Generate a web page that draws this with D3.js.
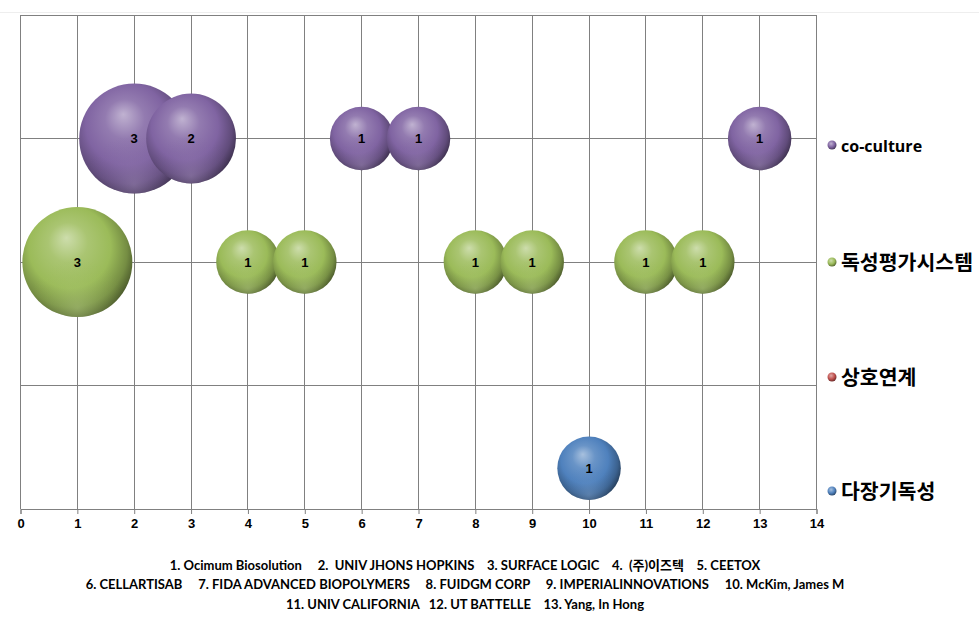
<!DOCTYPE html>
<html><head><meta charset="utf-8">
<script src="https://cdn.jsdelivr.net/npm/d3@7/dist/d3.min.js"></script>
<style>
html,body{margin:0;padding:0;background:#fff;}
svg{display:block;}
</style></head>
<body>
<script>
// ---- data ----
const seriesNames = ["co-culture", "독성평가시스템", "상호연계", "다장기독성"];
const seriesColors = ["#8064A2", "#9BBB59", "#C0504D", "#4F81BD"];
const cocultureX = [2, 3, 6, 7, 13];
const cocultureSize = [3, 2, 1, 1, 1];
const cocultureY = 3;
const toxX = [1, 4, 5, 8, 9, 11, 12];
const toxSize = [3, 1, 1, 1, 1, 1, 1];
const toxY = 2;
const linkX = [];
const linkSize = [];
const linkY = 1;
const multiX = [10];
const multiSize = [1];
const multiY = 0.33;
const xTicks = [0,1,2,3,4,5,6,7,8,9,10,11,12,13,14];
const footerLines = [
  "1. Ocimum Biosolution     2.  UNIV JHONS HOPKINS    3. SURFACE LOGIC    4.  (주)이즈텍    5. CEETOX",
  "6. CELLARTISAB     7. FIDA ADVANCED BIOPOLYMERS     8. FUIDGM CORP     9. IMPERIALINNOVATIONS     10. McKim, James M",
  "11. UNIV CALIFORNIA   12. UT BATTELLE    13. Yang, In Hong"
];

const series = [
  {name: seriesNames[0], color: seriesColors[0], pts: cocultureX.map((x,i)=>({x, y: cocultureY, s: cocultureSize[i]}))},
  {name: seriesNames[1], color: seriesColors[1], pts: toxX.map((x,i)=>({x, y: toxY, s: toxSize[i]}))},
  {name: seriesNames[2], color: seriesColors[2], pts: linkX.map((x,i)=>({x, y: linkY, s: linkSize[i]}))},
  {name: seriesNames[3], color: seriesColors[3], pts: multiX.map((x,i)=>({x, y: multiY, s: multiSize[i]}))}
];

const W = 979, H = 640;
const svg = d3.select("body").append("svg").attr("width", W).attr("height", H);
const defs = svg.append("defs");

const x = d3.scaleLinear().domain([0, 14]).range([20.5, 816.5]);
const y = d3.scaleLinear().domain([0, 4]).range([509, 15]);
const r = d3.scaleSqrt().domain([0, 3]).range([0, 55]);

// gradients
series.forEach((s, i) => {
  const c = d3.color(s.color);
  const g = defs.append("radialGradient").attr("id", "g" + i)
    .attr("cx", "0.45").attr("cy", "0.42").attr("r", "0.6")
    .attr("fx", "0.4").attr("fy", "0.28");
  g.append("stop").attr("offset", "0%").attr("stop-color", d3.interpolateRgb(s.color, "#ffffff")(0.5));
  g.append("stop").attr("offset", "30%").attr("stop-color", d3.interpolateRgb(s.color, "#ffffff")(0.15));
  g.append("stop").attr("offset", "62%").attr("stop-color", s.color);
  g.append("stop").attr("offset", "85%").attr("stop-color", c.darker(0.8));
  g.append("stop").attr("offset", "100%").attr("stop-color", c.darker(2.2));
  // bottom rim reflection
  const g2 = defs.append("radialGradient").attr("id", "h" + i)
    .attr("cx", "0.5").attr("cy", "0.92").attr("r", "0.45");
  g2.append("stop").attr("offset", "0%").attr("stop-color", d3.interpolateRgb(s.color, "#ffffff")(0.25)).attr("stop-opacity", 0.5);
  g2.append("stop").attr("offset", "100%").attr("stop-color", s.color).attr("stop-opacity", 0);
  // legend gradient
  const g3 = defs.append("radialGradient").attr("id", "l" + i)
    .attr("cx", "0.4").attr("cy", "0.35").attr("r", "0.65");
  g3.append("stop").attr("offset", "0%").attr("stop-color", d3.interpolateRgb(s.color, "#ffffff")(0.5));
  g3.append("stop").attr("offset", "60%").attr("stop-color", s.color);
  g3.append("stop").attr("offset", "100%").attr("stop-color", c.darker(1.5));
});

// faint chart border line at top
svg.append("line").attr("x1", 0).attr("x2", W).attr("y1", 12.5).attr("y2", 12.5)
  .attr("stroke", "#eeeeee").attr("stroke-width", 1);

// grid
const grid = svg.append("g").attr("stroke", "#808080").attr("stroke-width", 1).attr("shape-rendering", "crispEdges");
grid.selectAll("line.v").data(xTicks).enter().append("line")
  .attr("x1", d => x(d)).attr("x2", d => x(d)).attr("y1", y(4)).attr("y2", y(0));
grid.selectAll("line.h").data([0,1,2,3,4]).enter().append("line")
  .attr("x1", x(0)).attr("x2", x(14)).attr("y1", d => y(d)).attr("y2", d => y(d));

// x axis
const xAxis = d3.axisBottom(x).tickValues(xTicks).tickSize(5).tickPadding(5).tickFormat(d3.format("d"));
const ax = svg.append("g").attr("transform", `translate(0,${y(0)})`).call(xAxis);
ax.select(".domain").attr("stroke", "#808080");
ax.selectAll(".tick line").attr("stroke", "#808080");
ax.selectAll(".tick text").attr("fill", "#000").style("font", "bold 13px 'Liberation Sans', Arial, sans-serif");

// bubbles
series.forEach((s, i) => {
  const g = svg.append("g");
  const b = g.selectAll("g").data(s.pts).enter().append("g")
    .attr("transform", d => `translate(${x(d.x)},${y(d.y)})`);
  b.append("circle").attr("r", d => r(d.s)).attr("fill", `url(#g${i})`);
  b.append("circle").attr("r", d => r(d.s)).attr("fill", `url(#h${i})`);
  b.append("text").text(d => d.s).attr("text-anchor", "middle").attr("dy", "0.36em")
    .attr("fill", "#000").style("font", "bold 13px 'Liberation Sans', Arial, sans-serif");
});

// legend
const legY = [146, 263, 378, 492];
const leg = svg.append("g");
series.forEach((s, i) => {
  leg.append("circle").attr("cx", 832).attr("cy", legY[i] - 1).attr("r", 4.5).attr("fill", `url(#l${i})`);
  leg.append("text").attr("x", 841).attr("y", legY[i]).attr("dy", "0.35em")
    .text(s.name).attr("fill", "#000")
    .style("font", i === 0 ? "bold 16px 'Open Sans', 'Noto Sans CJK KR', sans-serif" : "bold 20.5px 'Noto Sans CJK KR', sans-serif");
});

// footer
svg.append("g").selectAll("text").data(footerLines).enter().append("text")
  .attr("x", 465).attr("y", (d, i) => 565 + i * 19.5).attr("dy", "0.35em")
  .attr("text-anchor", "middle").style("white-space", "pre")
  .attr("fill", "#000")
  .style("font", "bold 13px Lato, 'Noto Sans CJK KR', sans-serif")
  .text(d => d);
</script>
</body></html>
